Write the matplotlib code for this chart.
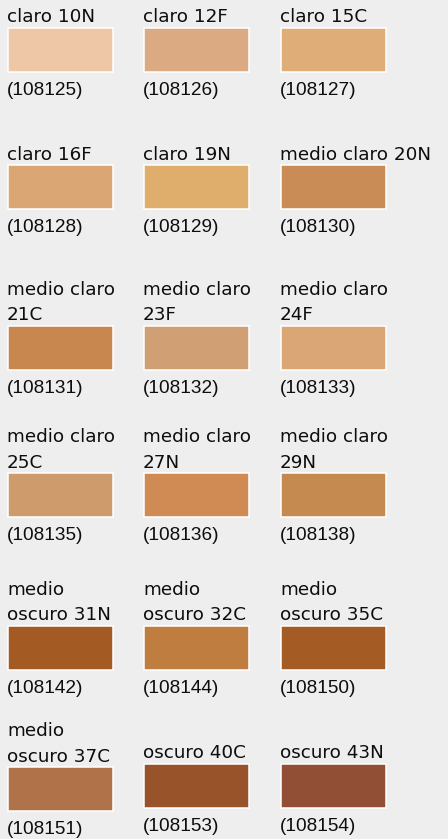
import matplotlib
matplotlib.use("Agg")
import matplotlib.pyplot as plt
from matplotlib.patches import Rectangle

# shade names (line breaks as shown), product codes and swatch colours
names = [
    "claro 10N", "claro 12F", "claro 15C",
    "claro 16F", "claro 19N", "medio claro 20N",
    "medio claro\n21C", "medio claro\n23F", "medio claro\n24F",
    "medio claro\n25C", "medio claro\n27N", "medio claro\n29N",
    "medio\noscuro 31N", "medio\noscuro 32C", "medio\noscuro 35C",
    "medio\noscuro 37C", "oscuro 40C", "oscuro 43N",
]
codes = [
    "108125", "108126", "108127",
    "108128", "108129", "108130",
    "108131", "108132", "108133",
    "108135", "108136", "108138",
    "108142", "108144", "108150",
    "108151", "108153", "108154",
]
colors = [
    "#eec7a6", "#dbaa82", "#dfae78",
    "#daa674", "#dfad6c", "#c98c56",
    "#c8874f", "#d09f74", "#daa675",
    "#ce9c6c", "#d08a53", "#c48a4f",
    "#a45a23", "#bf7d3f", "#a55b24",
    "#b07249", "#99532a", "#915036",
]

# layout (pixels)
W, H = 448, 839
col_x = [7, 143, 280]
row_top = [27, 164, 325, 472, 625, 766]
sw_w, sw_h = 107, 46
line_h = 25.5

fig = plt.figure(figsize=(W / 100, H / 100), dpi=100)
fig.patch.set_facecolor("#eeeeee")
ax = fig.add_axes([0, 0, 1, 1])
ax.set_xlim(0, W)
ax.set_ylim(H, 0)
ax.axis("off")

for i, (name, code, c) in enumerate(zip(names, codes, colors)):
    r, k = divmod(i, 3)
    x = col_x[k]
    top = row_top[r]
    lines = name.split("\n")
    # single-line cells in a row with two-line neighbours sit a bit higher
    row_lines = [len(n.split("\n")) for n in names[r * 3:r * 3 + 3]]
    if len(lines) < max(row_lines):
        top -= 3
    for j, ln in enumerate(lines[::-1]):
        ax.text(x, top - 4.5 - j * line_h, ln, fontsize=13.2, family="DejaVu Sans",
                color="#0d0d0d", va="baseline", ha="left")
    ax.add_patch(Rectangle((x + 0.75, top + 0.75), sw_w - 1.5, sw_h - 1.5,
                           facecolor=c, edgecolor="white", linewidth=1.1))
    ax.text(x, top + sw_h + 22, f"({code})", fontsize=13.7, family="Liberation Sans",
            color="#0d0d0d", va="baseline", ha="left")

fig.savefig("out.png", dpi=100, facecolor=fig.get_facecolor())
